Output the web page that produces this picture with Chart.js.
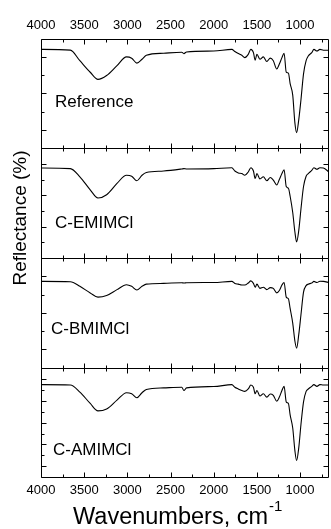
<!DOCTYPE html>
<html><head><meta charset="utf-8">
<script src="https://cdn.jsdelivr.net/npm/chart.js@4/dist/chart.umd.min.js"></script>
<style>html,body{margin:0;padding:0;background:#fff;}#wrap{position:relative;width:331px;height:529px;}</style>
</head><body><div id="wrap"><canvas id="c" width="331" height="529"></canvas></div>
<script>
// ---- data ----
const wavenumbers = [4000,3660,3550,3430,3340,3240,3120,3010,2950,2890,2830,2780,2580,2370,2345,2315,2000,1790,1755,1715,1675,1640,1600,1570,1540,1520,1500,1465,1425,1385,1345,1310,1270,1240,1210,1185,1160,1135,1115,1085,1060,1040,1015,990,960,930,905,865,840,805,770,730,665];
const referenceValues = [94.1,93.7,87.9,81.6,77.7,79.8,85.2,90.0,89.3,86.6,88.7,90.9,92.0,92.5,91.8,92.7,93.2,94.1,92.9,91.8,90.9,89.6,91.4,94.1,92.3,88.2,91.4,88.7,90.0,87.5,89.3,87.9,83.4,86.1,89.6,92.0,81.6,81.1,75.4,69.1,53.9,48.6,55.7,66.4,80.7,87.9,90.5,92.3,94.1,93.2,94.1,93.6,93.6];
const emimclValues = [87.4,87.0,81.8,73.5,68.3,70.4,77.6,82.8,82.2,79.3,82.8,84.5,85.5,86.8,87.0,86.8,87.0,87.6,85.5,84.3,83.9,82.8,84.9,87.6,85.5,80.7,83.9,80.5,81.8,79.3,81.4,79.7,76.6,80.1,83.9,86.3,75.6,74.5,69.4,59.0,46.6,40.3,47.6,61.1,75.6,82.2,83.9,85.9,87.6,86.6,87.6,87.4,84.9];
const bmimclValues = [87.2,87.0,84.5,80.9,78.6,79.5,82.7,85.4,84.5,82.5,84.5,85.7,86.1,86.5,86.3,86.5,86.6,87.2,86.1,85.7,85.2,85.2,86.3,87.5,86.1,84.0,85.7,83.4,84.0,82.7,83.8,83.4,80.9,82.2,85.2,86.6,78.6,77.7,72.4,64.4,54.6,50.7,58.2,68.8,81.3,84.9,85.7,86.3,87.2,86.6,87.3,87.2,86.6];
const amimclValues = [92.3,92.1,88.9,83.7,80.3,81.2,85.2,88.6,88.1,86.3,88.6,90.1,90.8,91.1,89.6,90.8,91.4,92.3,91.1,90.3,89.6,89.2,90.3,92.1,91.1,88.1,89.6,87.1,88.1,86.6,88.0,87.4,84.7,86.6,89.6,91.5,84.4,83.7,78.5,72.5,62.2,57.7,63.6,74.0,84.4,89.2,90.3,91.5,92.3,91.5,92.3,92.1,92.1];
const panelLabels = ['Reference','C-EMIMCl','C-BMIMCl','C-AMIMCl'];
const xTickLabels = [4000,3500,3000,2500,2000,1500,1000];
const xMinorTicks = [3750,3250,2750,2250,1750,1250,750];
const xAxisTitle = 'Wavenumbers, cm';
const xAxisTitleSup = '-1';
const yAxisTitle = 'Reflectance (%)';
// y ranges per panel: [min, max, step]
const panelRanges = [[40,100,10],[30,100,10],[40,100,10],[50,100,5]];

// ---- style ----
const FONT = "'Liberation Sans', Arial, sans-serif";
const panelIds = ['y1','y2','y3','y4'];
const majorParity = [1,0,1,1];
const labelPos = [[55,64],[55,75],[51,71],[53,83]]; // x, offset from panel top (center)
const series = [referenceValues, emimclValues, bmimclValues, amimclValues];

const yScales = {};
// stacked scales are laid out bottom-up, so insert last panel first
panelIds.slice().reverse().forEach(id=>{
  const i = panelIds.indexOf(id);
  yScales[id] = {
    type:'linear', position:'left', stack:'panels', stackWeight:1,
    min: panelRanges[i][0], max: panelRanges[i][1],
    ticks:{display:false, stepSize: panelRanges[i][2]},
    grid:{display:false, drawTicks:false}, border:{display:false}
  };
});
function xScale(pos){
  return {
    type:'linear', position:pos, reverse:true, min:665, max:4000,
    afterBuildTicks: s => { s.ticks = xTickLabels.map(v=>({value:v})); },
    ticks:{color:'#000', font:{family:FONT, size:13}, padding:5, maxRotation:0, autoSkip:false,
      callback: v => String(v)},
    grid:{display:false, drawTicks:false}, border:{display:false}
  };
}

const framePlugin = {
  id:'frame',
  afterDraw(chart){
    const ctx = chart.ctx, ca = chart.chartArea, xs = chart.scales.x;
    const L = Math.round(ca.left)+0.5, R = Math.round(ca.right)-0.5;
    ctx.save();
    ctx.strokeStyle = '#000'; ctx.lineWidth = 1;
    panelIds.forEach((id,i)=>{
      const ys = chart.scales[id];
      const T = Math.round(ys.top)+0.5, B = Math.round(ys.bottom)+0.5;
      ctx.beginPath();
      ctx.moveTo(L,T); ctx.lineTo(R,T); ctx.lineTo(R,B); ctx.lineTo(L,B); ctx.closePath();
      const drawX = (v,len)=>{
        const p = Math.round(xs.getPixelForValue(v))+0.5;
        ctx.moveTo(p,T); ctx.lineTo(p,T+len);
        ctx.moveTo(p,B); ctx.lineTo(p,B-len);
      };
      xTickLabels.forEach(v=>drawX(v,5));
      xMinorTicks.forEach(v=>{ if (v>=xs.min) drawX(v,3); });
      const [mn,mx,st] = panelRanges[i];
      let k=1;
      for (let v=mn+st; v<mx-1e-9; v+=st, k++){
        const len = (k%2===majorParity[i]) ? 5 : 3;
        const p = Math.round(ys.getPixelForValue(v))+0.5;
        ctx.moveTo(L,p); ctx.lineTo(L+len,p);
        ctx.moveTo(R,p); ctx.lineTo(R-len,p);
      }
      ctx.stroke();
      ctx.fillStyle='#000';
      ctx.font = '17px '+FONT;
      ctx.textBaseline='middle'; ctx.textAlign='left';
      ctx.fillText(panelLabels[i], labelPos[i][0], ys.top + labelPos[i][1]);
    });
    ctx.font = '15px '+FONT;
    const sw = ctx.measureText(xAxisTitleSup).width;
    ctx.font = '23.5px '+FONT;
    const w = ctx.measureText(xAxisTitle).width;
    ctx.textBaseline='middle'; ctx.textAlign='left';
    const x0 = 73;
    ctx.fillText(xAxisTitle, x0, 518);
    ctx.font = '15px '+FONT;
    ctx.fillText(xAxisTitleSup, x0+w+1, 507);
    ctx.translate(21, 218);
    ctx.rotate(-Math.PI/2);
    ctx.font = '19px '+FONT;
    ctx.textAlign='center';
    ctx.fillText(yAxisTitle, 0, 0);
    ctx.restore();
  }
};

new Chart(document.getElementById('c'), {
  type:'line',
  data:{
    datasets: series.map((vals,i)=>({
      label: panelLabels[i],
      data: wavenumbers.map((w,j)=>({x:w, y:vals[j]})),
      xAxisID:'x', yAxisID: panelIds[i],
      borderColor:'#000', borderWidth:1.1, pointRadius:0, cubicInterpolationMode:'monotone', fill:false
    }))
  },
  options:{
    responsive:false, animation:false, devicePixelRatio:1,
    layout:{padding:{left:41, right:2, top:13, bottom:26}},
    plugins:{legend:{display:false}, tooltip:{enabled:false}},
    scales: Object.assign({x: xScale('bottom'), x2: xScale('top')}, yScales)
  },
  plugins:[framePlugin]
});
</script></body></html>
